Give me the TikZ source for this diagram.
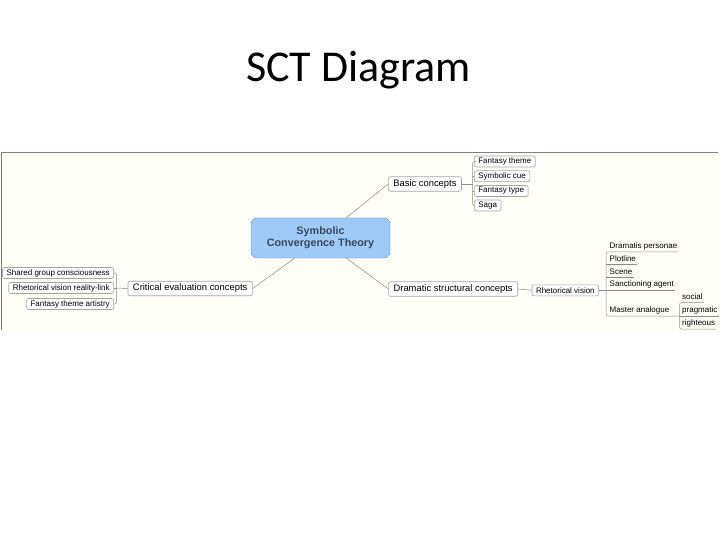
\documentclass[tikz,border=0pt]{standalone}
\usepackage{fontspec}
\setmainfont{Liberation Sans}
\newfontfamily\titlefont{Carlito}
\definecolor{mapbg}{RGB}{255,255,247}
\definecolor{mapframe}{RGB}{128,128,128}
\definecolor{linegray}{RGB}{140,140,140}
\definecolor{boxgray}{RGB}{165,165,165}
\definecolor{corefill}{RGB}{158,202,248}
\definecolor{coredraw}{RGB}{110,145,185}
\definecolor{coretext}{RGB}{58,74,94}
\tikzset{
  topic/.style={draw=boxgray, fill=white, rounded corners=2pt, line width=0.6pt, font=\fontsize{9.4}{11}\selectfont, inner xsep=5pt, inner ysep=0pt, minimum height=14.5pt},
  leaf/.style={draw=boxgray, fill=white, rounded corners=2pt, line width=0.6pt, font=\fontsize{8}{9.5}\selectfont, inner xsep=4pt, inner ysep=0pt, minimum height=11pt},
  uline/.style={font=\fontsize{8}{9.5}\selectfont, inner xsep=1pt, inner ysep=1.5pt, text depth=1.8pt, anchor=base west},
  link/.style={draw=linegray, line width=0.5pt}
}
\begin{document}
\begin{tikzpicture}[x=1pt, y=-1pt]
    \useasboundingbox (0,0) rectangle (720,540);
    \fill[mapbg] (0,152.5) rectangle (720,332.5);
    \draw[mapframe, line width=1.3pt] (1.5,330) -- (1.5,152.5) -- (718,152.5);
    \node[anchor=base, font=\titlefont\fontsize{44}{52}\selectfont] (title) at (358.5,82) {SCT Diagram};

    \node[draw=coredraw, fill=corefill, rounded corners=6pt, minimum width=139pt, minimum height=40pt, align=center, text=coretext, font=\bfseries\fontsize{10.8}{12.3}\selectfont] (sct) at (320.5,238) {Symbolic\\Convergence Theory};

    \node[topic, anchor=west] (basic) at (388,184) {Basic concepts};
    \node[topic, anchor=west] (dramatic) at (388.3,289) {Dramatic structural concepts};
    \node[topic, anchor=east] (critical) at (252.7,288.5) {Critical evaluation concepts};

    \node[leaf, anchor=west] (ftheme) at (474,161.5) {Fantasy theme};
    \node[leaf, anchor=west] (scue) at (474,176.2) {Symbolic cue};
    \node[leaf, anchor=west] (ftype) at (474,191) {Fantasy type};
    \node[leaf, anchor=west] (saga) at (474,205.5) {Saga};

    \node[leaf, anchor=east] (shared) at (114,273) {Shared group consciousness};
    \node[leaf, anchor=east] (rvlink) at (114,288) {Rhetorical vision reality-link};
    \node[leaf, anchor=east] (artistry) at (114,304) {Fantasy theme artistry};

    \node[leaf, anchor=west] (rhetvision) at (531.7,290.3) {Rhetorical vision};
    \node[uline] (personae) at (608.5,248.3) {Dramatis personae};
    \node[uline] (plotline) at (608.5,261) {Plotline};
    \node[uline] (scene) at (608.5,274) {Scene};
    \node[uline] (agent) at (608.5,286.5) {Sanctioning agent};
    \node[uline] (analogue) at (608.5,312.5) {Master analogue};
    \node[uline] (social) at (681,299) {social};
    \node[uline] (pragmatic) at (681,312.5) {pragmatic};
    \node[uline] (righteous) at (681,325.5) {righteous};

    \coordinate (basicfork) at (472.5,184);
    \coordinate (critfork) at (116.5,288);
    \coordinate (rhetfork) at (606,290);
    \coordinate (analoguefork) at (679.5,316);

    \draw[link] (sct.38) -- (basic.west);
    \draw[link] (sct.-38) -- (dramatic.west);
    \draw[link] (sct.218) -- (critical.east);

    \draw[link] (basic.east) -- (basicfork);
    \draw[link, rounded corners=2pt] (ftheme.west) -- (ftheme.west -| basicfork) -- (saga.west -| basicfork) -- (saga.west);
    \draw[link] (scue.west) -- (scue.west -| basicfork);
    \draw[link] (ftype.west) -- (ftype.west -| basicfork);

    \draw[link] (critical.west) -- (critfork);
    \draw[link, rounded corners=2pt] (shared.east) -- (shared.east -| critfork) -- (artistry.east -| critfork) -- (artistry.east);
    \draw[link] (rvlink.east) -- (rvlink.east -| critfork);

    \draw[link] (dramatic.east) -- (rhetvision.west);
    \draw[link] (rhetvision.east) -- (rhetvision.east -| rhetfork);
    \draw[link, rounded corners=2pt] (personae.south east) -- (personae.south west -| rhetfork) -- (analogue.south west -| rhetfork) -- (analogue.south -| analoguefork);
    \draw[link] (plotline.south west -| rhetfork) -- (plotline.south east);
    \draw[link] (scene.south west -| rhetfork) -- (scene.south east);
    \draw[link] (agent.south west -| rhetfork) -- (agent.south east);
    \draw[link, rounded corners=2pt] (social.south east) -- (social.south west -| analoguefork) -- (righteous.south west -| analoguefork) -- (righteous.south east);
    \draw[link] (pragmatic.south west -| analoguefork) -- (pragmatic.south east);
\end{tikzpicture}
\end{document}
